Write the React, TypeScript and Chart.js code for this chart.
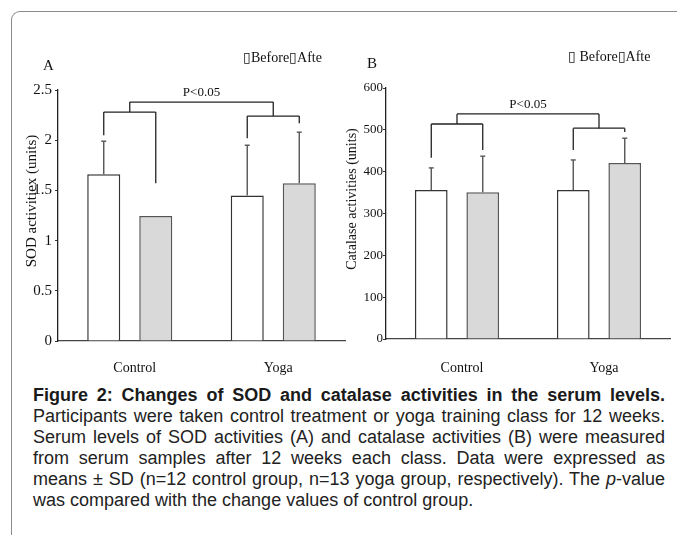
import React, { useEffect, useRef } from "react";
import { Chart, registerables } from "chart.js";
Chart.register(...registerables);

const categories = ["Control", "Yoga"];
const seriesNames = ["Before", "After"];

// Panel A: SOD activities
const sodBefore = [1.66, 1.45];
const sodAfter = [1.245, 1.57];
const sodBeforeSd = [0.33, 0.5];
const sodAfterSd: (number | null)[] = [null, 0.51];
const sodMax = 2.5;
const sodStep = 0.5;
const sodBracketTop = 2.38;
const sodBracketSub = [2.28, 2.24];
const sodLegEnds = [
  [2.05, 1.57],
  [2.02, 2.17],
];

// Panel B: Catalase activities
const catBefore = [356, 356];
const catAfter = [351, 421];
const catBeforeSd = [53, 72];
const catAfterSd: (number | null)[] = [86, 59];
const catMax = 600;
const catStep = 100;
const catBracketTop = 538;
const catBracketSub = [514, 504];
const catLegEnds = [
  [433, 452],
  [452, 495],
];

const pText = "P<0.05";
const SERIF = "'Liberation Serif', 'Times New Roman', serif";

const annotPlugin = {
  id: "annot",
  afterDatasetsDraw(chart: any, _args: any, opts: any) {
    const ctx = chart.ctx;
    const y = chart.scales.y;
    const metas = [chart.getDatasetMeta(0), chart.getDatasetMeta(1)];
    const line = (x1: number, y1: number, x2: number, y2: number) => {
      ctx.beginPath();
      ctx.moveTo(x1, y1);
      ctx.lineTo(x2, y2);
      ctx.stroke();
    };
    ctx.save();
    // error bars
    ctx.strokeStyle = "#555";
    ctx.lineWidth = 1.4;
    metas.forEach((m: any, d: number) => {
      const vals = chart.data.datasets[d].data;
      const sds = opts.sds[d];
      m.data.forEach((bar: any, i: number) => {
        const sd = sds[i];
        if (sd == null) return;
        const yt = y.getPixelForValue(vals[i] + sd);
        line(bar.x, bar.y, bar.x, yt);
        line(bar.x - 2.5, yt, bar.x + 2.5, yt);
      });
    });
    // brackets
    ctx.strokeStyle = "#222";
    ctx.lineWidth = 1.3;
    const yTop = y.getPixelForValue(opts.top);
    const mids: number[] = [];
    for (let i = 0; i < 2; i++) {
      const xa = metas[0].data[i].x;
      const xb = metas[1].data[i].x;
      const ys = y.getPixelForValue(opts.sub[i]);
      line(xa, ys, xb, ys);
      line(xa, ys, xa, y.getPixelForValue(opts.legs[i][0]));
      line(xb, ys, xb, y.getPixelForValue(opts.legs[i][1]));
      const mx = (xa + xb) / 2;
      mids.push(mx);
      line(mx, ys, mx, yTop);
    }
    line(mids[0], yTop, mids[1], yTop);
    ctx.fillStyle = "#111";
    ctx.font = `13px ${SERIF}`;
    ctx.textAlign = "center";
    ctx.textBaseline = "middle";
    ctx.fillText(pText, (mids[0] + mids[1]) / 2, yTop - 9);

    // texts: panel letter, legend, y-title
    ctx.font = `15px ${SERIF}`;
    ctx.textAlign = "left";
    ctx.fillText(opts.letter, opts.letterPos[0], opts.letterPos[1]);
    ctx.font = `14px ${SERIF}`;
    ctx.fillText(opts.legend, opts.legendPos[0], opts.legendPos[1]);
    ctx.save();
    ctx.translate(opts.titlePos[0], opts.titlePos[1]);
    ctx.rotate(-Math.PI / 2);
    ctx.textAlign = "center";
    ctx.font = `${opts.titleSize}px ${SERIF}`;
    ctx.fillText(opts.title, 0, 0);
    ctx.restore();
    ctx.restore();
  },
};

function makeConfig(p: any): any {
  return {
    type: "bar",
    data: {
      labels: categories,
      datasets: [
        {
          label: seriesNames[0],
          data: p.before,
          backgroundColor: "#ffffff",
          borderColor: "#333",
          borderWidth: 1.5,
          categoryPercentage: 0.725,
          barPercentage: 0.635,
        },
        {
          label: seriesNames[1],
          data: p.after,
          backgroundColor: "#d9d9d9",
          borderColor: "#555",
          borderWidth: 1.5,
          categoryPercentage: 0.725,
          barPercentage: 0.635,
        },
      ],
    },
    options: {
      responsive: false,
      animation: false,
      devicePixelRatio: 1,
      layout: { padding: { top: p.padTop, right: p.padRight, left: 0, bottom: 0 } },
      plugins: {
        legend: { display: false },
        title: { display: false },
        tooltip: { enabled: false },
        annot: {
          sds: p.sds,
          top: p.top,
          sub: p.sub,
          legs: p.legs,
          letter: p.letter,
          letterPos: p.letterPos,
          legend: p.legend,
          legendPos: p.legendPos,
          title: p.title,
          titlePos: p.titlePos,
          titleSize: p.titleSize,
        },
      },
      scales: {
        x: {
          grid: { display: false },
          border: { display: true, color: "#444", width: 1.3 },
          ticks: {
            color: "#111",
            font: { family: SERIF, size: 14 },
            padding: p.xPad,
            labelOffset: 5,
          },
          afterFit: (s: any) => {
            s.height = p.xHeight;
          },
        },
        y: {
          min: 0,
          max: p.max,
          grid: {
            display: true,
            drawOnChartArea: false,
            drawTicks: true,
            tickLength: 3,
            color: "#333",
          },
          border: { display: true, color: "#222", width: 1.3 },
          ticks: {
            stepSize: p.step,
            color: "#111",
            font: { family: SERIF, size: p.tickSize },
            padding: p.yPad,
            callback: (v: any) => String(v),
          },
          afterFit: (s: any) => {
            s.width = p.yWidth;
          },
        },
      },
    },
    plugins: [annotPlugin],
  };
}

function Panel(props: { p: any; left: number; width: number; height: number }) {
  const ref = useRef<HTMLCanvasElement>(null);
  useEffect(() => {
    const chart = new Chart(ref.current as HTMLCanvasElement, makeConfig(props.p));
    return () => chart.destroy();
  }, []);
  return (
    <canvas
      ref={ref}
      width={props.width}
      height={props.height}
      style={{
        position: "absolute",
        left: props.left,
        top: 0,
        width: props.width,
        height: props.height,
      }}
    />
  );
}

const panelA = {
  before: sodBefore,
  after: sodAfter,
  sds: [sodBeforeSd, sodAfterSd],
  max: sodMax,
  step: sodStep,
  top: sodBracketTop,
  sub: sodBracketSub,
  legs: sodLegEnds,
  letter: "A",
  letterPos: [43, 66],
  legend: "\u25AFBefore\u25AFAfte",
  legendPos: [243, 58],
  title: "SOD activitiex (units)",
  titlePos: [32, 201],
  titleSize: 15,
  padTop: 90,
  padRight: 5,
  yWidth: 58,
  xHeight: 34,
  xPad: 11,
  yPad: 3,
  tickSize: 15,
};

const panelB = {
  before: catBefore,
  after: catAfter,
  sds: [catBeforeSd, catAfterSd],
  max: catMax,
  step: catStep,
  top: catBracketTop,
  sub: catBracketSub,
  legs: catLegEnds,
  letter: "B",
  letterPos: [37, 64],
  legend: "\u25AF Before\u25AFAfte",
  legendPos: [238, 57],
  title: "Catalase activities (units)",
  titlePos: [22, 199],
  titleSize: 14,
  padTop: 88,
  padRight: 7,
  yWidth: 56,
  xHeight: 36,
  xPad: 13,
  yPad: 0,
  tickSize: 13,
};

const captionLines = [
  "Participants were taken control treatment or yoga training class for 12 weeks.",
  "Serum levels of SOD activities (A) and catalase activities (B) were measured",
  "from serum samples after 12 weeks each class. Data were expressed as",
];

export default function App() {
  const lineStyle: React.CSSProperties = {
    textAlign: "justify",
    textAlignLast: "justify" as any,
    height: 21,
    whiteSpace: "nowrap",
  };
  return (
    <div
      style={{
        position: "absolute",
        left: 0,
        top: 0,
        width: 677,
        height: 535,
        overflow: "hidden",
        background: "#fff",
      }}
    >
      <div
        style={{
          position: "absolute",
          left: 11,
          top: 11,
          width: 720,
          height: 600,
          borderTop: "1px solid #8a8a8a",
          borderLeft: "1px solid #8a8a8a",
          borderTopLeftRadius: 9,
        }}
      />
      <Panel p={panelA} left={0} width={350} height={375} />
      <Panel p={panelB} left={330} width={347} height={375} />
      <div
        style={{
          position: "absolute",
          left: 33,
          top: 385,
          width: 632,
          fontFamily: "'Liberation Sans', Arial, sans-serif",
          fontSize: 18,
          lineHeight: "21px",
          color: "#222",
        }}
      >
        <div style={{ ...lineStyle, fontWeight: "bold", color: "#1a1a1a" }}>
          Figure 2: Changes of SOD and catalase activities in the serum levels.
        </div>
        {captionLines.map((t, i) => (
          <div key={i} style={lineStyle}>
            {t}
          </div>
        ))}
        <div style={lineStyle}>
          means ± SD (n=12 control group, n=13 yoga group, respectively). The <i>p</i>-value
        </div>
        <div style={{ height: 21, whiteSpace: "nowrap" }}>
          was compared with the change values of control group.
        </div>
      </div>
    </div>
  );
}
